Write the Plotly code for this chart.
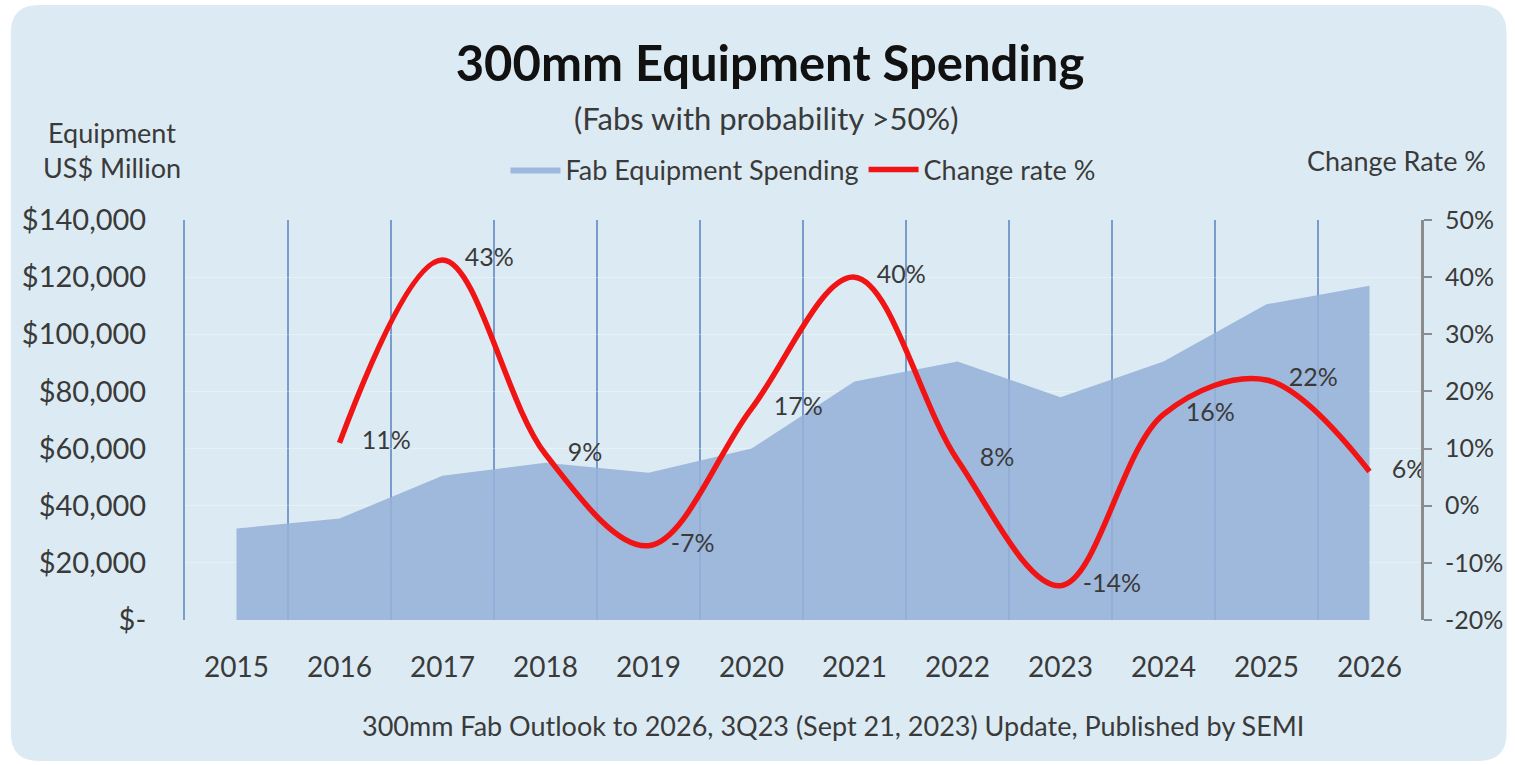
import plotly.graph_objects as go

years = ["2015", "2016", "2017", "2018", "2019", "2020", "2021", "2022", "2023", "2024", "2025", "2026"]
spending = [32000, 35500, 50500, 55000, 51500, 60000, 83500, 90500, 78000, 90500, 110500, 117000]
rate_years = ["2016", "2017", "2018", "2019", "2020", "2021", "2022", "2023", "2024", "2025", "2026"]
rates = [0.11, 0.43, 0.09, -0.07, 0.17, 0.40, 0.08, -0.14, 0.16, 0.22, 0.06]
left_ticks = [0, 20000, 40000, 60000, 80000, 100000, 120000, 140000]
left_ticktext = ["$-", "$20,000", "$40,000", "$60,000", "$80,000", "$100,000", "$120,000", "$140,000"]
right_ticks = [-0.2, -0.1, 0.0, 0.1, 0.2, 0.3, 0.4, 0.5]
right_ticktext = ["-20%", "-10%", "0%", "10%", "20%", "30%", "40%", "50%"]

FONT = "Lato, 'Open Sans', sans-serif"
TXT = "#3a3a3a"
BG = "#dcebf3"
GRID = "#7a9ccd"

fig = go.Figure()
fig.add_trace(go.Scatter(
    x=years, y=spending, name="Fab Equipment Spending",
    mode="lines", line=dict(width=0, color="rgba(150,178,218,0.88)"),
    fill="tozeroy", fillcolor="rgba(150,178,218,0.88)",
))
fig.add_trace(go.Scatter(
    x=rate_years, y=rates, name="Change rate %", yaxis="y2",
    mode="lines+markers+text",
    line=dict(color="#f01414", width=5.5, shape="spline", smoothing=1.0),
    marker=dict(size=34, color="rgba(0,0,0,0)"),
    text=[f"{round(r*100):d}%" for r in rates],
    textposition="middle right",
    textfont=dict(family=FONT, size=25, color=TXT),
))

W, H = 1515, 765
L, R, T, B = 185, 88, 220, 145
pw, ph = W - L - R, H - T - B

def px(x):
    return (x - L) / pw

def py(y):
    return (H - B - y) / ph

# rounded background panel (paper coords)
x0, x1, y0, y1, rad = 10, 1513, 5, 761, 28
rx, ry = rad / pw, rad / ph
X0, X1, Y0, Y1 = px(x0), px(x1), py(y1), py(y0)
path = (f"M {X0+rx},{Y0} L {X1-rx},{Y0} Q {X1},{Y0} {X1},{Y0+ry} "
        f"L {X1},{Y1-ry} Q {X1},{Y1} {X1-rx},{Y1} L {X0+rx},{Y1} "
        f"Q {X0},{Y1} {X0},{Y1-ry} L {X0},{Y0+ry} Q {X0},{Y0} {X0+rx},{Y0} Z")

fig.update_layout(
    width=W, height=H,
    margin=dict(l=L, r=R, t=T, b=B),
    paper_bgcolor="white", plot_bgcolor="rgba(0,0,0,0)",
    font=dict(family=FONT, color=TXT),
    shapes=[dict(type="path", path=path, xref="paper", yref="paper",
                 fillcolor=BG, line=dict(width=0), layer="below")],
    title=dict(text="<b>300mm Equipment Spending</b>", xref="container", yref="container",
               x=770 / W, y=1 - 64 / H, xanchor="center", yanchor="middle",
               font=dict(family=FONT, size=49, color="#111111")),
    showlegend=True,
    legend=dict(orientation="h", x=0.5, xanchor="center", y=py(170), yanchor="middle",
                bgcolor="rgba(0,0,0,0)", font=dict(size=27, color=TXT),
                itemwidth=50, traceorder="normal"),
    xaxis=dict(type="category", range=[-0.5, 11.5], tickson="boundaries", showgrid=True,
               gridcolor=GRID, gridwidth=2, showline=False, zeroline=False,
               ticks="", tickfont=dict(size=28, color=TXT), ticklabelstandoff=28),
    yaxis=dict(range=[0, 140000], tickvals=left_ticks, ticktext=left_ticktext,
               showgrid=True, gridcolor="rgba(255,255,255,0.3)", gridwidth=1,
               zeroline=False, showline=True, linecolor=GRID, linewidth=2, ticks="",
               tickfont=dict(size=29, color=TXT), ticklabelstandoff=31),
    yaxis2=dict(overlaying="y", side="right", range=[-0.2, 0.5], tickvals=right_ticks,
                ticktext=right_ticktext, showgrid=False, zeroline=False,
                showline=True, linecolor="#8c8c8c", linewidth=3, layer="below traces",
                ticks="outside", ticklen=8, tickcolor="#8c8c8c", tickwidth=1.5,
                tickfont=dict(size=25, color=TXT), ticklabelstandoff=8),
    annotations=[
        dict(text="(Fabs with probability >50%)", xref="paper", yref="paper",
             x=px(769), y=py(118), xanchor="center", yanchor="middle", showarrow=False,
             font=dict(size=31, color=TXT)),
        dict(text="Equipment<br>US$ Million", xref="paper", yref="paper",
             x=px(112), y=py(150), xanchor="center", yanchor="middle", showarrow=False,
             align="center", font=dict(size=27, color=TXT)),
        dict(text="Change Rate %", xref="paper", yref="paper",
             x=px(1402), y=py(160), xanchor="center", yanchor="middle", showarrow=False,
             font=dict(size=27, color=TXT)),
        dict(text="300mm Fab Outlook to 2026, 3Q23 (Sept 21, 2023) Update, Published by SEMI",
             xref="paper", yref="paper", x=px(836), y=py(725), xanchor="center",
             yanchor="middle", showarrow=False, font=dict(size=27, color=TXT)),
    ],
)

fig.write_html("out.html")
